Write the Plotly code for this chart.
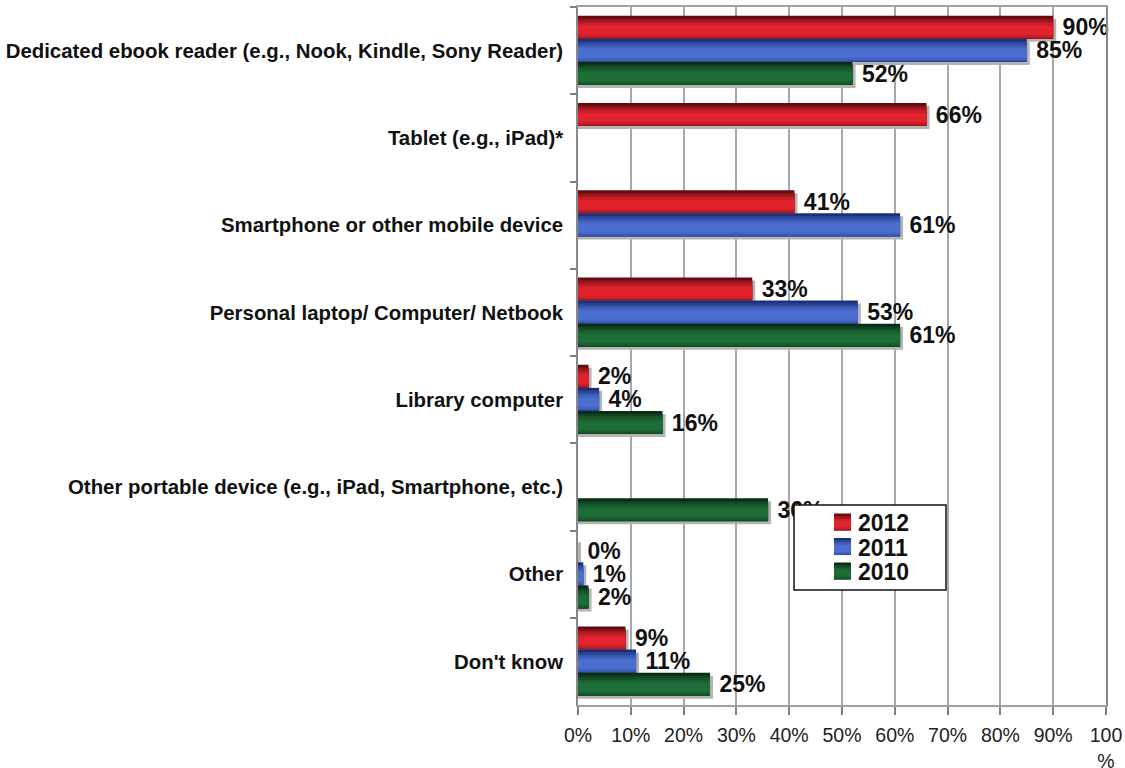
import plotly.graph_objects as go

# Survey: devices used to read e-books, by year
categories = [
    "Dedicated ebook reader (e.g., Nook, Kindle, Sony Reader)",
    "Tablet (e.g., iPad)*",
    "Smartphone or other mobile device",
    "Personal laptop/ Computer/ Netbook",
    "Library computer",
    "Other portable device (e.g., iPad, Smartphone, etc.)",
    "Other",
    "Don't know",
]
years = ["2012", "2011", "2010"]
values_2012 = [90, 66, 41, 33, 2, None, 0, 9]
values_2011 = [85, None, 61, 53, 4, None, 1, 11]
values_2010 = [52, None, None, 61, 16, 36, 2, 25]
series_values = [values_2012, values_2011, values_2010]

tick_values = [0, 10, 20, 30, 40, 50, 60, 70, 80, 90, 100]
tick_labels = ["0%", "10%", "20%", "30%", "40%", "50%", "60%", "70%", "80%", "90%", "100<br>%"]

# Style: (dark edge colour, bright core colour) per series
palette = [
    ("#640a10", "#e0232d"),
    ("#1c3078", "#4a6fd0"),
    ("#0a2c14", "#1d6d37"),
]

FONT = "Liberation Sans, Arial, sans-serif"
FIG_W, FIG_H = 1125, 768
M_L, M_R, M_T, M_B = 578, 19, 7, 63
plot_w = FIG_W - M_L - M_R
plot_h = FIG_H - M_T - M_B
band = plot_h / len(categories)

bar_w = 0.265
first_offset = -0.40
shadow_dx = 3 * 100 / plot_w      # 3px in x units
shadow_dy = 3 / band              # 3px in category units


def mix(c1, c2, t):
    a = [int(c1[i:i + 2], 16) for i in (1, 3, 5)]
    b = [int(c2[i:i + 2], 16) for i in (1, 3, 5)]
    return "#" + "".join(f"{round(x + (y - x) * t):02x}" for x, y in zip(a, b))


def px_x(px):
    return (px - M_L) / plot_w


def px_y(py):
    return (FIG_H - M_B - py) / plot_h


# strips building a vertical shading: (top fraction, bottom fraction, blend)
strips = [(0.0, 1.0, 0.0), (0.12, 1.0, 0.35), (0.22, 0.97, 0.6),
          (0.32, 0.92, 0.82), (0.42, 0.82, 1.0)]

fig = go.Figure()

# drop shadows
for k, vals in enumerate(series_values):
    off = first_offset + k * bar_w
    fig.add_trace(go.Bar(
        y=categories, x=[None if v is None else v + shadow_dx for v in vals],
        orientation="h", offset=off + shadow_dy, width=bar_w,
        marker=dict(color="#b4b4b4", line=dict(width=0)),
        showlegend=False, hoverinfo="skip",
    ))

# shaded bars
for k, (vals, name) in enumerate(zip(series_values, years)):
    off = first_offset + k * bar_w
    dark, bright = palette[k]
    for a, b, t in strips:
        fig.add_trace(go.Bar(
            y=categories, x=vals, orientation="h",
            offset=off + a * bar_w, width=(b - a) * bar_w,
            marker=dict(color=mix(dark, bright, t), line=dict(width=0)),
            name=name, showlegend=False, hoverinfo="skip",
        ))

# value labels
for k, vals in enumerate(series_values):
    off = first_offset + k * bar_w
    fig.add_trace(go.Bar(
        y=categories, x=vals, orientation="h", offset=off, width=bar_w,
        marker=dict(color="rgba(0,0,0,0)", line=dict(width=0)),
        text=["" if v is None else "\u00a0" + f"{v}%" for v in vals],
        textposition="outside", cliponaxis=False, constraintext="none",
        outsidetextfont=dict(family=FONT, size=23, color="#111111", weight="bold"),
        showlegend=False, hoverinfo="skip",
    ))

# legend box with shaded swatches
shapes = [dict(type="rect", xref="paper", yref="paper", layer="above",
               x0=px_x(794), x1=px_x(946), y0=px_y(590), y1=px_y(505),
               fillcolor="white", line=dict(color="#111111", width=1.5))]
annotations = []
row_y = [522, 546.5, 571]
for k, name in enumerate(years):
    dark, bright = palette[k]
    top, bot = row_y[k] - 8.5, row_y[k] + 8.5
    for a, b, t in strips:
        shapes.append(dict(
            type="rect", xref="paper", yref="paper", layer="above",
            x0=px_x(834), x1=px_x(851),
            y0=px_y(top + b * (bot - top)), y1=px_y(top + a * (bot - top)),
            fillcolor=mix(dark, bright, t), line=dict(width=0)))
    annotations.append(dict(
        text=name, xref="paper", yref="paper", x=px_x(856), y=px_y(row_y[k] + 1),
        xanchor="left", yanchor="middle", showarrow=False,
        font=dict(family=FONT, size=23, color="#111111", weight="bold")))

fig.update_layout(
    width=FIG_W, height=FIG_H,
    margin=dict(l=M_L, r=M_R, t=M_T, b=M_B, pad=0, autoexpand=False),
    barmode="overlay", showlegend=False,
    plot_bgcolor="white", paper_bgcolor="white",
    font=dict(family=FONT, color="#111111"),
    shapes=shapes, annotations=annotations,
    xaxis=dict(
        range=[0, 100], tickvals=tick_values, ticktext=tick_labels,
        automargin=False,
        showgrid=True, gridcolor="#a8a8a8", gridwidth=1.5,
        zeroline=False, showline=True, linecolor="#a0a0a0", linewidth=1.5,
        mirror=True, ticks="outside", ticklen=8, tickcolor="#808080",
        tickwidth=1.5, tickfont=dict(family=FONT, size=19.5, color="#222222"),
        ticklabelstandoff=4,
    ),
    yaxis=dict(
        type="category", categoryorder="array", categoryarray=categories,
        range=[len(categories) - 0.5, -0.5], automargin=False,
        showline=True, linecolor="#888888", linewidth=1.5, mirror=True,
        ticks="outside", ticklen=6, tickcolor="#808080", tickwidth=1.5,
        tickson="boundaries", showgrid=False,
        tickfont=dict(family=FONT, size=20.4, color="#111111", weight="bold"),
        ticklabelstandoff=9,
    ),
)

fig.write_html("out.html")
